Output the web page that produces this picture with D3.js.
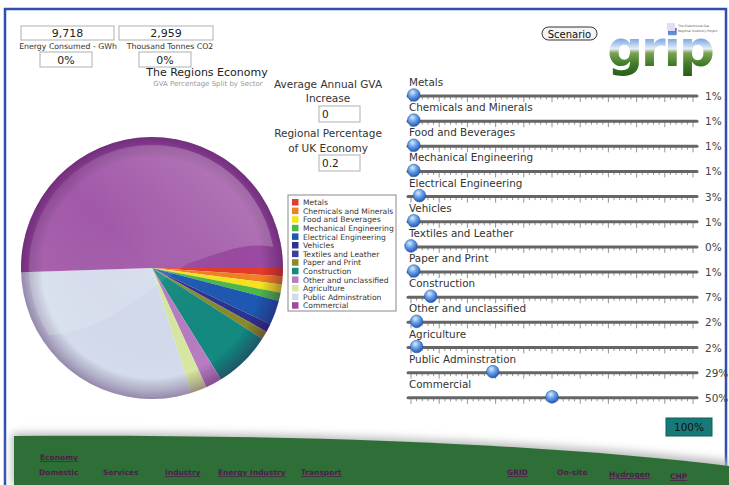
<!DOCTYPE html>
<html>
<head>
<meta charset="utf-8">
<script src="https://cdn.jsdelivr.net/npm/d3@7"></script>
<style>
  body { margin: 0; background: #fff; }
  text { font-family: "DejaVu Sans", Verdana, sans-serif; }
</style>
</head>
<body>
<div id="chart"></div>
<script>
// Sector data (percent of regional GVA)
const sectors = ["Metals", "Chemicals and Minerals", "Food and Beverages", "Mechanical Engineering",
  "Electrical Engineering", "Vehicles", "Textiles and Leather", "Paper and Print", "Construction",
  "Other and unclassified", "Agriculture", "Public Adminstration", "Commercial"];
const sectorShares = [1, 1, 1, 1, 3, 1, 0, 1, 7, 2, 2, 29, 50];
const sectorColors = ["#e63a2a", "#f08024", "#f4e41e", "#4cb84a", "#1d58b2", "#2c3290", "#3b3f9a",
  "#8a8a2c", "#13897f", "#b77cc2", "#d8e7a2", "#d3dbec", "#9a4aa1"];

// Headline figures
const energyGWh = 9718;
const co2Kt = 2959;
const energyChange = "0%";
const co2Change = "0%";
const gvaIncrease = "0";
const ukShare = "0.2";
const totalShare = "100%";

// Footer navigation
const navTop = ["Economy"];
const navLeft = ["Domestic", "Services", "Industry", "Energy Industry", "Transport"];
const navRight = ["GRID", "On-site", "Hydrogen", "CHP"];
const navUnderlined = ["Economy", "Industry", "Energy Industry", "Transport", "GRID", "Hydrogen", "CHP"];

const W = 729, H = 485;
const svg = d3.select("#chart").append("svg").attr("width", W).attr("height", H);
const defs = svg.append("defs");

// page frame
svg.append("path")
  .attr("d", `M5,${H} V9 H${W - 3} V${H}`)
  .attr("fill", "none").attr("stroke", "#2e4fb0").attr("stroke-width", 2.5);

// ---- footer band
const shadow = defs.append("filter").attr("id", "blur").attr("x", "-5%").attr("y", "-50%")
  .attr("width", "110%").attr("height", "200%");
shadow.append("feGaussianBlur").attr("stdDeviation", 4);
svg.append("path")
  .attr("d", "M12,433 C300,431 550,441 729,461 L729,485 L12,485 Z")
  .attr("fill", "#bbbbbb").attr("filter", "url(#blur)");
svg.append("path")
  .attr("d", "M14,436 C300,434 550,444 729,466 L729,485 L14,485 Z")
  .attr("fill", "#2e6f37");

const navFont = (g, y, items, xs) => {
  g.selectAll(null).data(items).join("text")
    .attr("x", (d, i) => xs[i]).attr("y", (d, i) => Array.isArray(y) ? y[i] : y)
    .attr("font-size", 7.5).attr("font-weight", "bold").attr("fill", "#4e1c4c")
    .attr("text-decoration", d => navUnderlined.includes(d) ? "underline" : null)
    .text(d => d);
};
const nav = svg.append("g");
navFont(nav, 460, navTop, [40]);
navFont(nav, 475, navLeft, [39, 103, 165, 218, 301]);
navFont(nav, [475, 475, 477, 479], navRight, [507, 557, 609, 670]);

// ---- headline boxes
function box(x, y, w, h, label, size) {
  svg.append("rect").attr("x", x).attr("y", y).attr("width", w).attr("height", h)
    .attr("fill", "#fff").attr("stroke", "#b0b0b0").attr("stroke-width", 1);
  svg.append("text").attr("x", x + w / 2).attr("y", y + h - 3).attr("text-anchor", "middle")
    .attr("font-size", size).attr("fill", "#222").text(label);
}
box(21, 26, 93, 14, d3.format(",")(energyGWh), 11);
box(119, 26, 94, 14, d3.format(",")(co2Kt), 11);
svg.append("text").attr("x", 68).attr("y", 49).attr("text-anchor", "middle")
  .attr("font-size", 7.8).attr("fill", "#333").text("Energy Consumed - GWh");
svg.append("text").attr("x", 170).attr("y", 49).attr("text-anchor", "middle")
  .attr("font-size", 7.8).attr("fill", "#333").text("Thousand Tonnes CO2");
box(40, 52, 52, 15, energyChange, 11);
box(139, 52, 52, 15, co2Change, 11);

svg.append("text").attr("x", 207).attr("y", 76).attr("text-anchor", "middle")
  .attr("font-size", 11).attr("fill", "#222").text("The Regions Economy");
svg.append("text").attr("x", 208).attr("y", 86).attr("text-anchor", "middle")
  .attr("font-size", 7).attr("fill", "#999").text("GVA Percentage Split by Sector");

// middle inputs
const mid = svg.append("g").attr("font-size", 10.5).attr("fill", "#333").attr("text-anchor", "middle");
mid.append("text").attr("x", 328).attr("y", 88).text("Average Annual GVA");
mid.append("text").attr("x", 328).attr("y", 102).text("Increase");
mid.append("text").attr("x", 328).attr("y", 137).text("Regional Percentage");
mid.append("text").attr("x", 328).attr("y", 152).text("of UK Economy");
[[106, gvaIncrease], [155, ukShare]].forEach(([y, v]) => {
  svg.append("rect").attr("x", 319).attr("y", y).attr("width", 41).attr("height", 16)
    .attr("fill", "#fff").attr("stroke", "#b0b0b0");
  svg.append("text").attr("x", 322).attr("y", y + 12).attr("font-size", 10.5).attr("fill", "#222").text(v);
});

// ---- pie
const cx = 152, cy = 268, R = 131;
const pie = d3.pie().sort(null).startAngle(Math.PI / 2).endAngle(Math.PI / 2 + 2 * Math.PI);
const arc = d3.arc().innerRadius(0).outerRadius(R);
const pg = svg.append("g").attr("transform", `translate(${cx},${cy})`);
pg.selectAll("path").data(pie(sectorShares)).join("path")
  .attr("d", arc).attr("fill", (d, i) => sectorColors[i]);

// glossy shading
const rim = defs.append("radialGradient").attr("id", "rim").attr("cx", "50%").attr("cy", "50%").attr("r", "50%");
rim.append("stop").attr("offset", "0%").attr("stop-color", "#fff").attr("stop-opacity", 0.05);
rim.append("stop").attr("offset", "84%").attr("stop-color", "#000").attr("stop-opacity", 0);
rim.append("stop").attr("offset", "93%").attr("stop-color", "#300040").attr("stop-opacity", 0.2);
rim.append("stop").attr("offset", "100%").attr("stop-color", "#300040").attr("stop-opacity", 0.38);
pg.append("circle").attr("r", R).attr("fill", "url(#rim)");

const shine = defs.append("linearGradient").attr("id", "shine").attr("x1", 1).attr("y1", 0).attr("x2", 0).attr("y2", 1);
shine.append("stop").attr("offset", "0%").attr("stop-color", "#fff").attr("stop-opacity", 0.32);
shine.append("stop").attr("offset", "50%").attr("stop-color", "#fff").attr("stop-opacity", 0.08);
shine.append("stop").attr("offset", "100%").attr("stop-color", "#fff").attr("stop-opacity", 0.2);
defs.append("clipPath").attr("id", "pieClip").append("circle").attr("r", R - 8);
pg.append("path")
  .attr("clip-path", "url(#pieClip)")
  .attr("d", `M${-R},${-R} H${R} V${-18} C${R - 30},${-30} ${70},${-16} ${35},${-4}
              C${-10},${25} ${-50},${70} ${-120},${68} L${-R},${R} Z`)
  .attr("fill", "url(#shine)");

// legend
const lg = svg.append("g").attr("transform", "translate(288,195)");
lg.append("rect").attr("width", 108).attr("height", 116).attr("fill", "#fff").attr("stroke", "#888");
const li = lg.selectAll("g").data(sectors).join("g")
  .attr("transform", (d, i) => `translate(4,${4 + i * 8.6})`);
li.append("rect").attr("width", 6.5).attr("height", 6.5).attr("fill", (d, i) => sectorColors[i]);
li.append("text").attr("x", 11).attr("y", 6.2).attr("font-size", 7.6).attr("fill", "#333").text(d => d);

// ---- sliders
const sx = d3.scaleLinear().domain([0, 100]).range([411, 693]);
const thumbGrad = defs.append("radialGradient").attr("id", "thumb").attr("cx", "40%").attr("cy", "30%").attr("r", "70%");
thumbGrad.append("stop").attr("offset", "0%").attr("stop-color", "#d8ecff");
thumbGrad.append("stop").attr("offset", "45%").attr("stop-color", "#6aa3ea");
thumbGrad.append("stop").attr("offset", "100%").attr("stop-color", "#2458b8");
const tickVals = d3.range(0, 101, 2);

const sl = svg.append("g").selectAll("g").data(sectors).join("g")
  .attr("transform", (d, i) => `translate(0,${96 + i * 25.15})`);
sl.append("text").attr("x", 409).attr("y", -10).attr("font-size", 10.4).attr("fill", "#333").text(d => d);
sl.each(function () {
  d3.select(this).selectAll("line.tk").data(tickVals).join("line").attr("class", "tk")
    .attr("x1", v => sx(v)).attr("x2", v => sx(v))
    .attr("y1", 0).attr("y2", v => v % 10 === 0 ? 6 : 3.5)
    .attr("stroke", "#777").attr("stroke-width", 0.8);
});
sl.append("line").attr("x1", 408).attr("x2", 697).attr("y1", 0).attr("y2", 0)
  .attr("stroke", "#666").attr("stroke-width", 3).attr("stroke-linecap", "round");
sl.append("circle").attr("cx", (d, i) => sx(sectorShares[i])).attr("cy", -1).attr("r", 6.3)
  .attr("fill", "url(#thumb)").attr("stroke", "#2a55a0").attr("stroke-width", 0.6);
sl.append("text").attr("x", 705).attr("y", 4).attr("font-size", 10.5).attr("fill", "#444")
  .text((d, i) => sectorShares[i] + "%");

// total box
svg.append("rect").attr("x", 666).attr("y", 418).attr("width", 46).attr("height", 18)
  .attr("fill", "#177a78").attr("stroke", "#0d5e5c");
svg.append("text").attr("x", 689).attr("y", 431).attr("text-anchor", "middle")
  .attr("font-size", 10.5).attr("fill", "#111").text(totalShare);

// Scenario button
svg.append("rect").attr("x", 542).attr("y", 27).attr("width", 55).attr("height", 13).attr("rx", 6.5)
  .attr("fill", "#f4f4f4").attr("stroke", "#333");
svg.append("text").attr("x", 569.5).attr("y", 37.5).attr("text-anchor", "middle")
  .attr("font-size", 10).attr("fill", "#111").text("Scenario");

// grip logo
const lgGrad = defs.append("linearGradient").attr("id", "grip").attr("gradientUnits", "userSpaceOnUse")
  .attr("x1", 0).attr("y1", 28).attr("x2", 0).attr("y2", 80);
[["0%", "#3f74c0"], ["25%", "#8fb6e6"], ["40%", "#e8eef6"], ["48%", "#7aa452"], ["70%", "#3f7a28"], ["100%", "#24501a"]]
  .forEach(([o, c]) => lgGrad.append("stop").attr("offset", o).attr("stop-color", c));
svg.append("text").attr("x", 660).attr("y", 66).attr("text-anchor", "middle")
  .attr("font-size", 50).attr("font-weight", "bold").attr("letter-spacing", -2)
  .attr("fill", "url(#grip)").text("grip");
svg.append("rect").attr("x", 667).attr("y", 23).attr("width", 8).attr("height", 8)
  .attr("fill", "#e4dcf0");
const tag = svg.append("g").attr("font-size", 3).attr("fill", "#555");
tag.append("text").attr("x", 678).attr("y", 27).text("The Greenhouse Gas");
tag.append("text").attr("x", 678).attr("y", 32).text("Regional Inventory Project");
</script>
</body>
</html>
